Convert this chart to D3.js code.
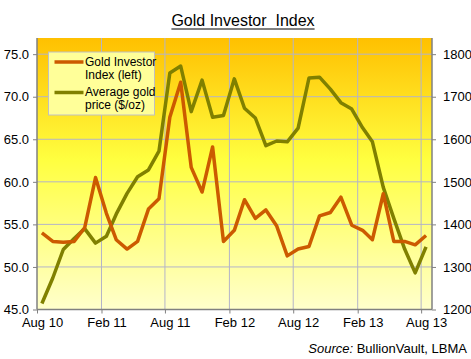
<!DOCTYPE html>
<html>
<head>
<meta charset="utf-8">
<script src="https://cdn.jsdelivr.net/npm/d3@7"></script>
<style>
  body { margin: 0; background: #fff; }
  text { font-family: "Liberation Sans", Arial, sans-serif; }
</style>
</head>
<body>
<div id="chart"></div>
<script>
// monthly data, Aug 2010 .. Aug 2013
const months = d3.timeMonths(new Date(2010, 7, 1), new Date(2013, 8, 1))

const investorIndex = [
  54.0, 53.0, 52.9, 53.0, 54.6, 60.5, 56.3, 53.2, 52.1, 53.0, 56.8, 58.0,
  67.6, 71.7, 61.7, 58.8, 64.1, 53.0, 54.3, 57.9, 55.7, 56.7, 54.8, 51.3,
  52.1, 52.4, 56.0, 56.4, 58.2, 54.9, 54.3, 53.2, 58.6, 53.0, 53.0, 52.6, 53.7
]

const goldPrice = [
  1214, 1274, 1341, 1367, 1390, 1356, 1372, 1424, 1473, 1512, 1528, 1572,
  1756, 1772, 1665, 1739, 1652, 1656, 1742, 1673, 1650, 1585, 1596, 1594,
  1626, 1744, 1746, 1718, 1686, 1671, 1627, 1594, 1487, 1414, 1342, 1286, 1347
]

const leftTicks = [45, 50, 55, 60, 65, 70, 75]
const rightTicks = [1200, 1300, 1400, 1500, 1600, 1700, 1800]
const xTicks = d3.timeMonths(new Date(2010, 7, 1), new Date(2013, 8, 1), 6)

const seriesNames = [["Gold Investor", "Index (left)"], ["Average gold", "price ($/oz)"]]
const colors = ["#cc5a00", "#808000"]

const width = 471, height = 359
const margin = {top: 38, right: 39, bottom: 49.5, left: 37}

const x = d3.scaleTime()
  .domain([new Date(2010, 7, 1), new Date(2013, 8, 1)])
  .range([margin.left, width - margin.right])

const yL = d3.scaleLinear()
  .domain([45, 76.9])
  .range([height - margin.bottom, margin.top])

const yR = d3.scaleLinear()
  .domain([1200, 1838])
  .range([height - margin.bottom, margin.top])

const mid = d => d3.timeDay.offset(d, 14)

const svg = d3.select("#chart").append("svg")
  .attr("width", width)
  .attr("height", height)

const grad = svg.append("defs").append("linearGradient")
  .attr("id", "bg")
  .attr("x1", 0).attr("y1", 0).attr("x2", 0).attr("y2", 1)
grad.append("stop").attr("offset", "0%").attr("stop-color", "#ffc000")
grad.append("stop").attr("offset", "45%").attr("stop-color", "#ffff40")
grad.append("stop").attr("offset", "100%").attr("stop-color", "#ffffcc")

svg.append("rect")
  .attr("x", margin.left).attr("y", margin.top)
  .attr("width", width - margin.left - margin.right)
  .attr("height", height - margin.top - margin.bottom)
  .attr("fill", "url(#bg)")

// grid
svg.append("g")
  .selectAll("line.h")
  .data(leftTicks)
  .join("line")
    .attr("x1", margin.left).attr("x2", width - margin.right)
    .attr("y1", d => yL(d)).attr("y2", d => yL(d))
    .attr("stroke", "#b4b4c8").attr("stroke-width", 1)

svg.append("g")
  .selectAll("line")
  .data(xTicks.slice(1))
  .join("line")
    .attr("x1", d => x(d)).attr("x2", d => x(d))
    .attr("y1", margin.top).attr("y2", height - margin.bottom)
    .attr("stroke", "#b4b4c8").attr("stroke-width", 1)

// axes
const axisColor = "#808080"

const gl = svg.append("g")
  .attr("transform", `translate(${margin.left},0)`)
  .call(d3.axisLeft(yL).tickValues(leftTicks).tickFormat(d3.format(".1f")).tickSize(4).tickPadding(4).tickSizeOuter(0))
const gr = svg.append("g")
  .attr("transform", `translate(${width - margin.right},0)`)
  .call(d3.axisRight(yR).tickValues(rightTicks).tickFormat(d3.format("d")).tickSize(4).tickPadding(7).tickSizeOuter(0))
const gx = svg.append("g")
  .attr("transform", `translate(0,${height - margin.bottom})`)
  .call(d3.axisBottom(x).tickValues(xTicks).tickFormat(d3.timeFormat("%b %y")).tickSize(4).tickPadding(4).tickSizeOuter(0))

for (const g of [gl, gr, gx]) {
  g.selectAll(".domain").attr("stroke", axisColor).attr("stroke-width", 1.5)
  g.selectAll(".tick line").attr("stroke", axisColor)
  g.selectAll(".tick text").attr("fill", "#000").style("font-size", "13px")
}
gx.selectAll(".tick text").attr("dx", 5)
gx.select(".domain").attr("d", `M${margin.left},0H${width - margin.right}`)
gl.select(".domain").attr("d", `M0,${margin.top}V${height - margin.bottom}`)
gr.select(".domain").attr("d", `M0,${margin.top}V${height - margin.bottom}`)

// lines
const lineL = d3.line().x((d, i) => x(mid(months[i]))).y(d => yL(d))
const lineR = d3.line().x((d, i) => x(mid(months[i]))).y(d => yR(d))

svg.append("path")
  .attr("d", lineR(goldPrice))
  .attr("fill", "none").attr("stroke", colors[1]).attr("stroke-width", 3.5)
  .attr("stroke-linejoin", "round")

svg.append("path")
  .attr("d", lineL(investorIndex))
  .attr("fill", "none").attr("stroke", colors[0]).attr("stroke-width", 3.5)
  .attr("stroke-linejoin", "round")

// legend
const legend = svg.append("g").attr("transform", "translate(48.5,52)")
legend.append("rect")
  .attr("width", 106).attr("height", 63)
  .attr("fill", "#ffff99").attr("stroke", "#c0c0c0")

seriesNames.forEach((name, i) => {
  const gy = 10 + i * 30.5
  legend.append("line")
    .attr("x1", 6).attr("x2", 35)
    .attr("y1", gy).attr("y2", gy)
    .attr("stroke", colors[i]).attr("stroke-width", 3.5)
  const t = legend.append("text")
    .attr("y", gy + 3.5)
    .style("font-size", "12px")
  t.append("tspan").attr("x", 36.5).text(name[0])
  t.append("tspan").attr("x", 36.5).attr("dy", 13).text(name[1])
})

// title
const title = svg.append("text")
  .attr("x", 243).attr("y", 26)
  .attr("text-anchor", "middle")
  .style("font-size", "16px")
  .style("white-space", "pre")
  .attr("xml:space", "preserve")
  .text("Gold Investor  Index")
const tb = title.node().getBBox()
svg.append("line")
  .attr("x1", tb.x).attr("x2", tb.x + tb.width)
  .attr("y1", 29).attr("y2", 29)
  .attr("stroke", "#000").attr("stroke-width", 1)

// source
const src = svg.append("text")
  .attr("x", 467).attr("y", 353)
  .attr("text-anchor", "end")
  .style("font-size", "13px")
src.append("tspan").style("font-style", "italic").text("Source:")
src.append("tspan").text(" BullionVault, LBMA")
</script>
</body>
</html>
